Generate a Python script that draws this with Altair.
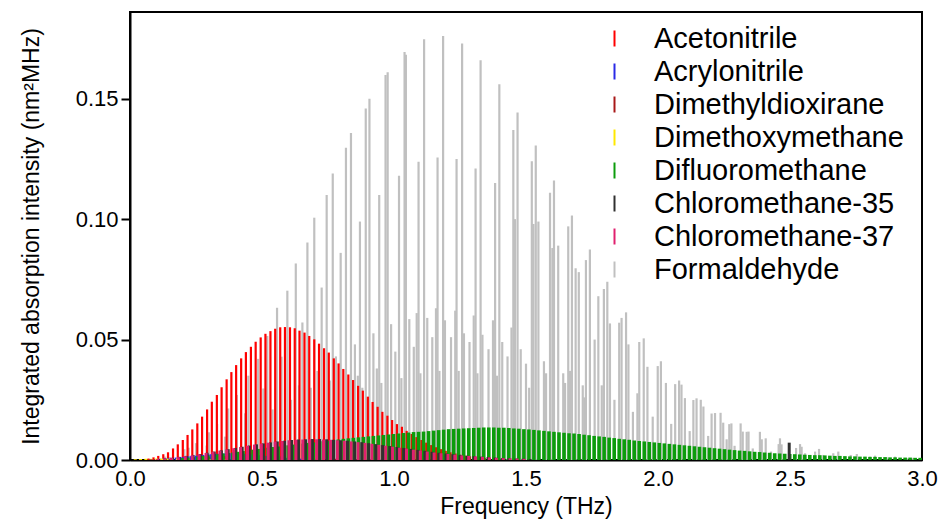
import altair as alt
import pandas as pd

SERIES = ["Acetonitrile", "Acrylonitrile", "Dimethyldioxirane", "Dimethoxymethane",
          "Difluoromethane", "Chloromethane-35", "Chloromethane-37", "Formaldehyde"]
COLORS = ["#ff0000", "#2a2ae6", "#a81818", "#ffe800", "#0c9c0c", "#303030", "#e0206e", "#c0c0c0"]

X_TICKS = [0.0, 0.5, 1.0, 1.5, 2.0, 2.5, 3.0]
Y_TICKS = [0.0, 0.05, 0.10, 0.15]

# (frequency THz, integrated intensity nm^2 MHz)
ACETONITRILE = [
    (0.070, 0.0006), (0.089, 0.0011), (0.107, 0.0017), (0.126, 0.0024), (0.144, 0.0032),
    (0.163, 0.0048), (0.181, 0.0065), (0.200, 0.0083), (0.218, 0.0104), (0.236, 0.0127),
    (0.255, 0.0152), (0.273, 0.0180), (0.292, 0.0210), (0.310, 0.0242), (0.329, 0.0270),
    (0.347, 0.0302), (0.366, 0.0335), (0.384, 0.0365), (0.402, 0.0394), (0.421, 0.0422),
    (0.439, 0.0448), (0.458, 0.0470), (0.476, 0.0491), (0.495, 0.0509), (0.513, 0.0524),
    (0.532, 0.0535), (0.550, 0.0545), (0.569, 0.0551), (0.587, 0.0552), (0.606, 0.0551),
    (0.624, 0.0547), (0.642, 0.0537), (0.661, 0.0529), (0.679, 0.0515), (0.698, 0.0501),
    (0.716, 0.0483), (0.735, 0.0464), (0.753, 0.0446), (0.772, 0.0422), (0.790, 0.0401),
    (0.808, 0.0378), (0.827, 0.0355), (0.845, 0.0332), (0.864, 0.0308), (0.882, 0.0288),
    (0.901, 0.0263), (0.919, 0.0241), (0.938, 0.0221), (0.956, 0.0200), (0.975, 0.0184),
    (0.993, 0.0166), (1.011, 0.0149), (1.030, 0.0138), (1.048, 0.0121), (1.067, 0.0108),
    (1.085, 0.0095), (1.104, 0.0083), (1.122, 0.0072), (1.141, 0.0062), (1.159, 0.0053),
    (1.178, 0.0045), (1.196, 0.0038), (1.214, 0.0032), (1.233, 0.0027), (1.251, 0.0022),
    (1.270, 0.0018), (1.288, 0.0015), (1.307, 0.0012), (1.325, 0.0010), (1.344, 0.0008),
    (1.362, 0.0006),
]

ACRYLONITRILE = [
    (0.096, 0.0004), (0.106, 0.0005), (0.115, 0.0005), (0.125, 0.0006), (0.134, 0.0007),
    (0.144, 0.0007), (0.154, 0.0008), (0.163, 0.0009), (0.173, 0.0010), (0.182, 0.0011),
    (0.192, 0.0012), (0.202, 0.0013), (0.211, 0.0014), (0.221, 0.0015), (0.230, 0.0016),
    (0.240, 0.0017), (0.250, 0.0018), (0.259, 0.0019), (0.269, 0.0020), (0.278, 0.0021),
    (0.288, 0.0022), (0.298, 0.0023), (0.307, 0.0024), (0.317, 0.0025), (0.326, 0.0026),
    (0.336, 0.0026), (0.346, 0.0027), (0.355, 0.0027), (0.365, 0.0028), (0.374, 0.0028),
    (0.384, 0.0028), (0.394, 0.0028), (0.403, 0.0027), (0.413, 0.0027), (0.422, 0.0026),
    (0.432, 0.0026), (0.442, 0.0025), (0.451, 0.0024), (0.461, 0.0023), (0.470, 0.0022),
    (0.480, 0.0021), (0.490, 0.0020), (0.499, 0.0019), (0.509, 0.0018), (0.518, 0.0017),
    (0.528, 0.0016), (0.538, 0.0015), (0.547, 0.0014), (0.557, 0.0013), (0.566, 0.0012),
    (0.576, 0.0011), (0.586, 0.0010), (0.595, 0.0009), (0.605, 0.0008), (0.614, 0.0008),
    (0.624, 0.0007), (0.634, 0.0006), (0.643, 0.0006), (0.653, 0.0005), (0.662, 0.0005),
    (0.672, 0.0004),
]

DIMETHYLDIOXIRANE = [
    (0.15, 0.0003), (0.18, 0.0005), (0.21, 0.0007), (0.24, 0.0009), (0.27, 0.0011),
    (0.30, 0.0013), (0.33, 0.0015), (0.36, 0.0016), (0.39, 0.0017), (0.42, 0.0018),
    (0.45, 0.0018), (0.48, 0.0018), (0.51, 0.0017), (0.54, 0.0016), (0.57, 0.0015),
    (0.60, 0.0013), (0.63, 0.0012), (0.66, 0.0010), (0.69, 0.0009), (0.72, 0.0007),
    (0.75, 0.0006), (0.78, 0.0005), (0.81, 0.0004),
]

DIMETHOXYMETHANE = [
    (0.02, 0.0003), (0.04, 0.0004), (0.06, 0.0005), (0.08, 0.0005), (0.10, 0.0006),
    (0.12, 0.0006), (0.14, 0.0006), (0.16, 0.0006), (0.18, 0.0006), (0.20, 0.0005),
    (0.22, 0.0005), (0.24, 0.0004), (0.26, 0.0004), (0.28, 0.0003), (0.30, 0.0003),
    (0.32, 0.0002), (0.34, 0.0002), (0.36, 0.0002),
]

DIFLUOROMETHANE = [
    (0.200, 0.0008), (0.219, 0.0010), (0.238, 0.0012), (0.257, 0.0014), (0.276, 0.0017),
    (0.295, 0.0019), (0.314, 0.0022), (0.333, 0.0024), (0.352, 0.0027), (0.371, 0.0029),
    (0.390, 0.0031), (0.409, 0.0034), (0.428, 0.0037), (0.447, 0.0040), (0.466, 0.0043),
    (0.485, 0.0046), (0.504, 0.0048), (0.523, 0.0051), (0.542, 0.0054), (0.561, 0.0056),
    (0.580, 0.0059), (0.599, 0.0061), (0.618, 0.0064), (0.637, 0.0066), (0.656, 0.0068),
    (0.675, 0.0071), (0.694, 0.0073), (0.713, 0.0076), (0.732, 0.0078), (0.751, 0.0080),
    (0.770, 0.0083), (0.789, 0.0085), (0.808, 0.0088), (0.827, 0.0090), (0.846, 0.0092),
    (0.865, 0.0094), (0.884, 0.0096), (0.903, 0.0098), (0.922, 0.0100), (0.941, 0.0102),
    (0.960, 0.0104), (0.979, 0.0106), (0.998, 0.0108), (1.017, 0.0110), (1.036, 0.0112),
    (1.055, 0.0114), (1.074, 0.0116), (1.093, 0.0117), (1.112, 0.0118), (1.131, 0.0120),
    (1.150, 0.0122), (1.169, 0.0124), (1.188, 0.0126), (1.207, 0.0128), (1.226, 0.0129),
    (1.245, 0.0130), (1.264, 0.0131), (1.283, 0.0132), (1.302, 0.0133), (1.321, 0.0134),
    (1.340, 0.0135), (1.359, 0.0135), (1.378, 0.0135), (1.397, 0.0134), (1.416, 0.0134),
    (1.435, 0.0133), (1.454, 0.0131), (1.473, 0.0130), (1.492, 0.0128), (1.511, 0.0127),
    (1.530, 0.0125), (1.549, 0.0123), (1.568, 0.0121), (1.587, 0.0119), (1.606, 0.0117),
    (1.625, 0.0115), (1.644, 0.0113), (1.663, 0.0111), (1.682, 0.0110), (1.701, 0.0108),
    (1.720, 0.0105), (1.739, 0.0103), (1.758, 0.0100), (1.777, 0.0098), (1.796, 0.0096),
    (1.815, 0.0093), (1.834, 0.0091), (1.853, 0.0088), (1.872, 0.0086), (1.891, 0.0084),
    (1.910, 0.0081), (1.929, 0.0079), (1.948, 0.0077), (1.967, 0.0075), (1.986, 0.0073),
    (2.005, 0.0071), (2.024, 0.0069), (2.043, 0.0067), (2.062, 0.0065), (2.081, 0.0063),
    (2.100, 0.0061), (2.119, 0.0059), (2.138, 0.0057), (2.157, 0.0055), (2.176, 0.0053),
    (2.195, 0.0051), (2.214, 0.0049), (2.233, 0.0047), (2.252, 0.0045), (2.271, 0.0043),
    (2.290, 0.0041), (2.309, 0.0039), (2.328, 0.0038), (2.347, 0.0036), (2.366, 0.0034),
    (2.385, 0.0033), (2.404, 0.0031), (2.423, 0.0030), (2.442, 0.0028), (2.461, 0.0027),
    (2.480, 0.0026), (2.499, 0.0025), (2.518, 0.0024), (2.537, 0.0023), (2.556, 0.0022),
    (2.575, 0.0021), (2.594, 0.0020), (2.613, 0.0020), (2.632, 0.0019), (2.651, 0.0018),
    (2.670, 0.0017), (2.689, 0.0017), (2.708, 0.0016), (2.727, 0.0015), (2.746, 0.0015),
    (2.765, 0.0014), (2.784, 0.0014), (2.803, 0.0013), (2.822, 0.0013), (2.841, 0.0012),
    (2.860, 0.0012), (2.879, 0.0011), (2.898, 0.0011), (2.917, 0.0010), (2.936, 0.0010),
    (2.955, 0.0010), (2.974, 0.0009), (2.993, 0.0009),
]

CHLOROMETHANE_35 = [
    (0.080, 0.0002), (0.106, 0.0004), (0.133, 0.0006), (0.160, 0.0009), (0.186, 0.0013),
    (0.213, 0.0017), (0.239, 0.0021), (0.266, 0.0025), (0.292, 0.0030), (0.319, 0.0035),
    (0.346, 0.0040), (0.372, 0.0045), (0.399, 0.0050), (0.425, 0.0055), (0.452, 0.0060),
    (0.479, 0.0065), (0.505, 0.0069), (0.532, 0.0073), (0.558, 0.0077), (0.585, 0.0080),
    (0.612, 0.0083), (0.638, 0.0085), (0.665, 0.0086), (0.691, 0.0087), (0.718, 0.0087),
    (0.745, 0.0086), (0.771, 0.0084), (0.798, 0.0082), (0.824, 0.0080), (0.851, 0.0077),
    (0.878, 0.0074), (0.904, 0.0070), (0.931, 0.0066), (0.957, 0.0062), (0.984, 0.0058),
    (1.011, 0.0054), (1.037, 0.0050), (1.064, 0.0046), (1.090, 0.0042), (1.117, 0.0038),
    (1.144, 0.0034), (1.170, 0.0030), (1.197, 0.0027), (1.223, 0.0024), (1.250, 0.0021),
    (1.277, 0.0018), (1.303, 0.0016), (1.330, 0.0014), (1.356, 0.0012), (1.383, 0.0010),
    (1.410, 0.0008), (1.436, 0.0007), (1.463, 0.0006), (1.489, 0.0005), (1.516, 0.0004),
    (2.497, 0.0072),
]

CHLOROMETHANE_37 = [
    (0.0785, 0.0002), (0.1047, 0.0004), (0.1309, 0.0006), (0.1571, 0.0009), (0.1833, 0.0012),
    (0.2094, 0.0016), (0.2356, 0.0020), (0.2618, 0.0024), (0.2880, 0.0029), (0.3142, 0.0034),
    (0.3404, 0.0039), (0.3665, 0.0044), (0.3927, 0.0049), (0.4189, 0.0054), (0.4451, 0.0059),
    (0.4713, 0.0064), (0.4975, 0.0068), (0.5236, 0.0072), (0.5498, 0.0076), (0.5760, 0.0079),
    (0.6022, 0.0082), (0.6284, 0.0084), (0.6545, 0.0085), (0.6807, 0.0086), (0.7069, 0.0086),
    (0.7331, 0.0085), (0.7593, 0.0084), (0.7855, 0.0082), (0.8116, 0.0080), (0.8378, 0.0077),
    (0.8640, 0.0074), (0.8902, 0.0071), (0.9164, 0.0067), (0.9425, 0.0063), (0.9687, 0.0059),
    (0.9949, 0.0055), (1.0211, 0.0051), (1.0473, 0.0047), (1.0735, 0.0043), (1.0996, 0.0039),
    (1.1258, 0.0035), (1.1520, 0.0031), (1.1782, 0.0028), (1.2044, 0.0025), (1.2305, 0.0022),
    (1.2567, 0.0019), (1.2829, 0.0017), (1.3091, 0.0015), (1.3353, 0.0013), (1.3614, 0.0011),
    (1.3876, 0.0009), (1.4138, 0.0008), (1.4400, 0.0007), (1.4662, 0.0006), (1.4923, 0.0005),
]

FORMALDEHYDE = [
    (0.133, 0.0014), (0.150, 0.0012), (0.206, 0.0045), (0.222, 0.0051), (0.250, 0.0070),
    (0.290, 0.0060), (0.299, 0.0115), (0.330, 0.0150), (0.360, 0.0097), (0.372, 0.0214),
    (0.405, 0.0270), (0.436, 0.0194), (0.448, 0.0350), (0.485, 0.0420), (0.505, 0.0297),
    (0.520, 0.0515), (0.540, 0.0210), (0.557, 0.0632), (0.574, 0.0429), (0.596, 0.0703),
    (0.610, 0.0250), (0.628, 0.0816), (0.640, 0.0310), (0.653, 0.0571), (0.672, 0.0903),
    (0.685, 0.0300), (0.698, 0.1006), (0.710, 0.0370), (0.726, 0.0716), (0.745, 0.1100),
    (0.757, 0.0330), (0.768, 0.1190), (0.780, 0.0430), (0.798, 0.0860), (0.818, 0.1296),
    (0.837, 0.1358), (0.852, 0.0480), (0.863, 0.0350), (0.871, 0.0990), (0.880, 0.0300),
    (0.893, 0.1459), (0.907, 0.1500), (0.922, 0.0526), (0.935, 0.0380), (0.944, 0.1100),
    (0.952, 0.0320), (0.968, 0.1598), (0.976, 0.1610), (0.989, 0.0564), (1.005, 0.0450),
    (1.019, 0.1180), (1.028, 0.0340), (1.040, 0.1694), (1.045, 0.1683), (1.058, 0.0585),
    (1.075, 0.0470), (1.086, 0.0610), (1.093, 0.1238), (1.100, 0.0360), (1.114, 0.1747),
    (1.126, 0.0590), (1.145, 0.0510), (1.159, 0.0630), (1.165, 0.1256), (1.172, 0.0370),
    (1.186, 0.1760), (1.193, 0.0580), (1.216, 0.0510), (1.232, 0.0620), (1.237, 0.1250),
    (1.245, 0.0370), (1.258, 0.1729), (1.265, 0.0526), (1.286, 0.0490), (1.302, 0.0600),
    (1.309, 0.1210), (1.316, 0.0360), (1.328, 0.1660), (1.335, 0.0520), (1.358, 0.0460),
    (1.375, 0.0580), (1.383, 0.1150), (1.390, 0.0350), (1.399, 0.1560), (1.410, 0.0490),
    (1.430, 0.0430), (1.445, 0.0550), (1.452, 0.1370), (1.458, 0.1000), (1.468, 0.1443),
    (1.480, 0.0460), (1.500, 0.0400), (1.512, 0.0300), (1.522, 0.1240), (1.528, 0.0980),
    (1.537, 0.1306), (1.547, 0.0990), (1.568, 0.0410), (1.576, 0.0360), (1.591, 0.1110),
    (1.600, 0.0880), (1.606, 0.1160), (1.622, 0.0890), (1.641, 0.0360), (1.648, 0.0320),
    (1.660, 0.0970), (1.667, 0.0370), (1.674, 0.1015), (1.688, 0.0796), (1.700, 0.0780),
    (1.715, 0.0310), (1.721, 0.0260), (1.727, 0.0830), (1.742, 0.0874), (1.760, 0.0500),
    (1.774, 0.0680), (1.787, 0.0310), (1.795, 0.0710), (1.808, 0.0740), (1.818, 0.0567),
    (1.835, 0.0250), (1.853, 0.0570), (1.862, 0.0590), (1.879, 0.0613), (1.888, 0.0480),
    (1.905, 0.0200), (1.922, 0.0277), (1.929, 0.0490), (1.946, 0.0505), (1.960, 0.0387),
    (1.980, 0.0180), (1.999, 0.0390), (2.011, 0.0410), (2.030, 0.0320), (2.050, 0.0150),
    (2.065, 0.0315), (2.080, 0.0330), (2.089, 0.0313), (2.102, 0.0257), (2.120, 0.0120),
    (2.134, 0.0249), (2.146, 0.0256), (2.162, 0.0250), (2.172, 0.0222), (2.190, 0.0100),
    (2.203, 0.0193), (2.216, 0.0195), (2.237, 0.0196), (2.247, 0.0155), (2.260, 0.0086),
    (2.270, 0.0149), (2.278, 0.0152), (2.290, 0.0059), (2.313, 0.0152), (2.321, 0.0118),
    (2.336, 0.0117), (2.343, 0.0118), (2.359, 0.0048), (2.386, 0.0117), (2.393, 0.0086),
    (2.408, 0.0090), (2.428, 0.0035), (2.457, 0.0066), (2.462, 0.0090), (2.468, 0.0065),
    (2.523, 0.0050), (2.538, 0.0066), (2.544, 0.0055), (2.557, 0.0028), (2.595, 0.0035),
    (2.610, 0.0046), (2.626, 0.0021), (2.664, 0.0028), (2.683, 0.0035), (2.730, 0.0021),
    (2.753, 0.0025), (2.803, 0.0014), (2.822, 0.0018), (2.866, 0.0011), (2.898, 0.0014),
    (2.942, 0.0008), (2.967, 0.0009),
]

FONT = "Liberation Sans"


def table(name, pairs):
    return pd.DataFrame({
        "molecule": name,
        "freq": [p[0] for p in pairs],
        "intensity": [p[1] for p in pairs],
    })


x_axis = alt.Axis(title="Frequency (THz)", values=X_TICKS, format=".1f", ticks=False,
                  labelFlush=False, labelOverlap=False, labelPadding=8, titlePadding=6,
                  grid=False)
y_axis = alt.Axis(title="Integrated absorption intensity (nm²MHz)", values=Y_TICKS,
                  format=".2f", tickSize=9, labelPadding=3, titlePadding=32,
                  labelFlush=False, grid=False)

color = alt.Color(
    "molecule:N",
    scale=alt.Scale(domain=SERIES, range=COLORS),
    legend=alt.Legend(
        title=None, orient="none", legendX=470, legendY=12,
        symbolType="M0,-1L0,1", symbolSize=256, symbolStrokeWidth=2,
        labelFontSize=29, labelFont=FONT, labelColor="black", labelLimit=0,
        labelOffset=25, rowPadding=3, padding=0,
    ),
)


def layer(name, pairs, width):
    return alt.Chart(table(name, pairs)).mark_rule(strokeWidth=width).encode(
        x=alt.X("freq:Q", scale=alt.Scale(domain=[0, 3], nice=False, zero=False), axis=x_axis),
        y=alt.Y("intensity:Q", scale=alt.Scale(domain=[0, 0.186], nice=False), axis=y_axis),
        y2=alt.datum(0),
        color=color,
    )


chart = alt.layer(
    layer("Formaldehyde", FORMALDEHYDE, 2.2),
    layer("Acetonitrile", ACETONITRILE, 2.2),
    layer("Acrylonitrile", ACRYLONITRILE, 2),
    layer("Dimethyldioxirane", DIMETHYLDIOXIRANE, 2),
    layer("Dimethoxymethane", DIMETHOXYMETHANE, 3),
    layer("Difluoromethane", DIFLUOROMETHANE, 3.6),
    layer("Chloromethane-35", CHLOROMETHANE_35, 3),
    layer("Chloromethane-37", CHLOROMETHANE_37, 3),
).properties(
    width=792, height=448,
    autosize=alt.AutoSizeParams(type="none"),
    padding={"left": 130, "top": 12, "right": 17, "bottom": 60},
    background="white",
).configure_view(
    stroke="black", strokeWidth=2,
).configure_axis(
    domainColor="black", domainWidth=2, tickColor="black", tickWidth=2,
    labelFont=FONT, labelFontSize=22, labelColor="black",
    titleFont=FONT, titleFontSize=23, titleFontWeight="normal", titleColor="black",
    zindex=1,
)

chart.save("out.html", embed_options={"renderer": "svg", "actions": False})
